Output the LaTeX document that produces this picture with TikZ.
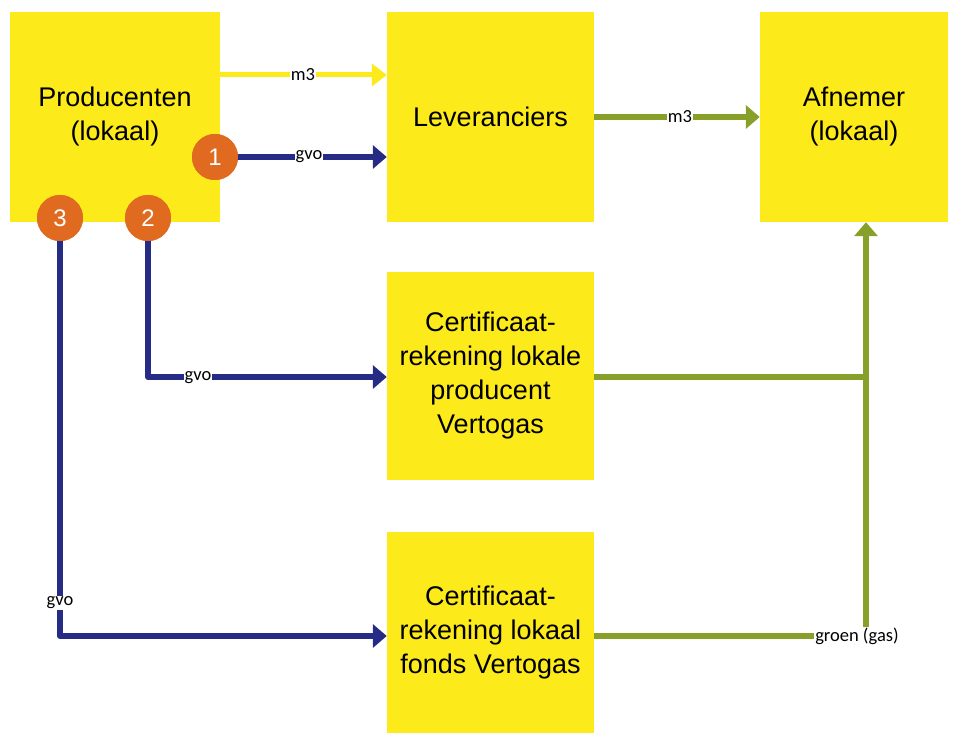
\documentclass[tikz,border=0pt]{standalone}
\usepackage{fontspec}
\setmainfont{Liberation Sans}
\newfontfamily\lblfont{Carlito}
\usetikzlibrary{arrows.meta}
\definecolor{boxyellow}{HTML}{FCEA1A}
\definecolor{navyline}{HTML}{262C86}
\definecolor{oliveline}{HTML}{86A02A}
\definecolor{orangec}{HTML}{E06B20}
\begin{document}
\begin{tikzpicture}[x=1pt,y=-1pt,
  box/.style={fill=boxyellow, draw=none, inner sep=0pt, align=center,
    font=\fontsize{27}{34}\selectfont},
  num/.style={circle, fill=orangec, draw=none, minimum size=46pt, inner sep=0pt,
    text=white, font=\fontsize{24}{24}\selectfont},
  lbl/.style={fill=white, inner sep=1pt, font=\lblfont\fontsize{18.5}{18.5}\selectfont},
  yline/.style={draw=boxyellow, line width=5pt, -{Triangle[length=15pt,width=22pt]}},
  bline/.style={draw=navyline, line width=6pt, line join=round, -{Triangle[length=14pt,width=23pt]}},
  gline/.style={draw=oliveline, line width=6pt, line join=round},
  garrow/.style={gline, -{Triangle[length=14pt,width=23pt]}}
]
\useasboundingbox (0,0) rectangle (962,733);
% boxes
\node[box, minimum width=210pt, minimum height=210pt] (P) at (115,117) {Producenten\\(lokaal)};
\node[box, minimum width=207pt, minimum height=210pt] (L) at (490.5,117) {Leveranciers};
\node[box, minimum width=188pt, minimum height=210pt] (A) at (854,117) {Afnemer\\(lokaal)};
\node[box, minimum width=207pt, minimum height=208pt] (C1) at (490.5,376) {Certificaat-\\rekening lokale\\producent\\Vertogas};
\node[box, minimum width=207pt, minimum height=201pt] (C2) at (490.5,632.5) {Certificaat-\\rekening lokaal\\fonds Vertogas};
% helper coordinates
\coordinate (ym3) at (0,75);
\coordinate (ygm3) at (0,117);
\coordinate (yc1) at (0,377);
\coordinate (yc2) at (0,636);
\coordinate (xj) at (866,0);
% circles (positions)
\node[num] (n1) at (215,157) {1};
\node[num] (n2) at (148,218) {2};
\node[num] (n3) at (60,218) {3};
% connectors
\draw[yline] (P.east |- ym3) -- (L.west |- ym3);
\draw[bline] (n1.center) -- (L.west |- n1);
\draw[garrow] (L.east |- ygm3) -- (A.west |- ygm3);
\draw[bline] (n2.center) |- (C1.west |- yc1);
\draw[bline] (n3.center) |- (C2.west |- yc2);
\draw[gline] (C1.east |- yc1) -- (xj |- yc1);
\draw[garrow] (C2.east |- yc2) -- (xj |- yc2) -- (xj |- A.south);
% circles on top
\node[num] at (n1) {1};
\node[num] at (n2) {2};
\node[num] at (n3) {3};
% labels
\node[lbl] (l1) at (303,75) {m3};
\node[lbl] (l2) at (309,157) {gvo};
\node[lbl] (l3) at (680,117) {m3};
\node[lbl] (l4) at (198,378) {gvo};
\node[lbl] (l5) at (60,603) {gvo};
\node[lbl] (l6) at (857,636) {groen (gas)};
\end{tikzpicture}
\end{document}
